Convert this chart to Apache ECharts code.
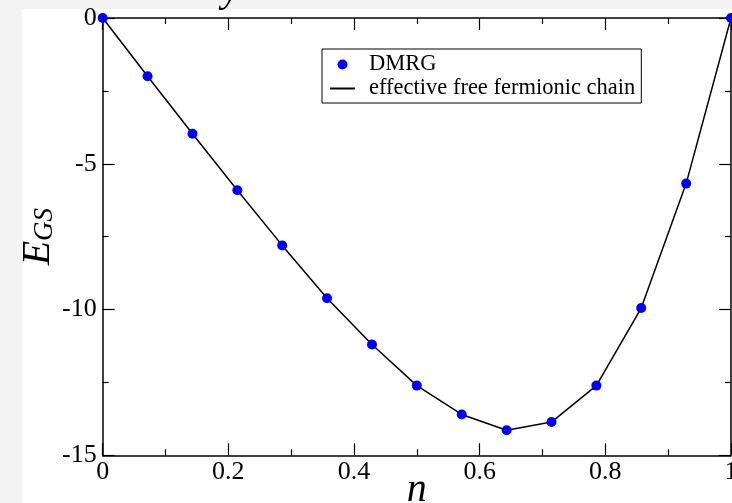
<!DOCTYPE html>
<html>
<head>
<meta charset="utf-8">
<script src="https://cdn.jsdelivr.net/npm/echarts@6/dist/echarts.min.js"></script>
<style>
  html, body { margin: 0; padding: 0; background: #f3f3f3; }
  #main { width: 732px; height: 503px; }
</style>
</head>
<body>
<div id="main"></div>
<script>
// filling n and ground state energy
var nValues = [0, 0.0714, 0.1429, 0.2143, 0.2857, 0.3571, 0.4286, 0.5, 0.5714, 0.6429, 0.7143, 0.7857, 0.8571, 0.9286, 1];
var dmrgEnergy = [0, -2.0, -3.97, -5.91, -7.8, -9.61, -11.2, -12.61, -13.6, -14.14, -13.86, -12.61, -9.95, -5.68, 0];
var freeChainEnergy = [0, -2.0, -3.97, -5.91, -7.8, -9.61, -11.2, -12.61, -13.6, -14.14, -13.86, -12.61, -9.95, -5.68, 0];
var xTicks = [0, 0.2, 0.4, 0.6, 0.8, 1];
var yTicks = [-15, -10, -5, 0];

var serif = "'Liberation Serif', 'DejaVu Serif', serif";

function pairs(xs, ys) {
  var out = [];
  for (var i = 0; i < xs.length; i++) out.push([xs[i], ys[i]]);
  return out;
}

var chart = echarts.init(document.getElementById('main'));

var axisCommon = {
  axisLine: { show: true, onZero: false, lineStyle: { color: '#000', width: 1.5 } },
  axisTick: { show: true, inside: true, length: 12, lineStyle: { color: '#000', width: 1.2 } },
  minorTick: { show: true, splitNumber: 2, length: 6, lineStyle: { color: '#000', width: 1.2 } },
  splitLine: { show: false }
};

chart.setOption({
  backgroundColor: '#f3f3f3',
  animation: false,
  graphic: [
    { type: 'rect', z: -100, shape: { x: 22, y: 9, width: 710, height: 494 }, style: { fill: '#ffffff' } },
    { type: 'text', z: -50, left: 222, top: -30,
      style: { text: 'y', font: 'italic 40px ' + serif, fill: '#000' } }
  ],
  grid: { left: 102.7, right: 1, top: 18, bottom: 47.7, containLabel: false, outerBoundsMode: 'none' },
  legend: {
    left: 322, top: 49,
    orient: 'vertical',
    backgroundColor: '#fff',
    borderColor: '#000',
    borderWidth: 1,
    borderRadius: 0,
    padding: [4, 6, 3, 7],
    itemGap: 1,
    itemWidth: 25,
    itemHeight: 10,
    textStyle: { fontFamily: serif, fontSize: 22.5, color: '#000', padding: [0, 0, 0, 9] },
    data: [
      { name: 'DMRG', icon: 'circle' },
      { name: 'effective free fermionic chain', itemStyle: { opacity: 0 } }
    ]
  },
  xAxis: [
    Object.assign({
      type: 'value', min: 0, max: 1, interval: 0.2, position: 'bottom',
      name: 'n', nameLocation: 'middle', nameGap: 15, nameMoveOverlap: false,
      nameTextStyle: { fontFamily: serif, fontStyle: 'italic', fontSize: 40, color: '#000' },
      axisLabel: { fontFamily: serif, fontSize: 26, color: '#000', margin: 4,
        formatter: function (v) { return xTicks.indexOf(+v.toFixed(1)) >= 0 ? String(+v.toFixed(1)) : ''; } }
    }, axisCommon),
    Object.assign({
      type: 'value', min: 0, max: 1, interval: 0.2, position: 'top',
      axisLabel: { show: false }
    }, axisCommon)
  ],
  yAxis: [
    Object.assign({
      type: 'value', min: -15, max: 0, interval: 5, position: 'left',
      name: '{e|E}{s|GS}', nameLocation: 'middle', nameGap: 44, nameMoveOverlap: false,
      nameTextStyle: {
        color: '#000',
        rich: {
          e: { fontFamily: serif, fontStyle: 'italic', fontSize: 40, color: '#000' },
          s: { fontFamily: serif, fontStyle: 'italic', fontSize: 27, color: '#000', padding: [14, 0, 0, 0] }
        }
      },
      axisLabel: { fontFamily: serif, fontSize: 26, color: '#000', margin: 6,
        formatter: function (v) { return yTicks.indexOf(v) >= 0 ? String(v) : ''; } }
    }, axisCommon),
    Object.assign({
      type: 'value', min: -15, max: 0, interval: 5, position: 'right',
      axisLabel: { show: false }
    }, axisCommon)
  ],
  series: [
    {
      name: 'effective free fermionic chain',
      type: 'line',
      data: pairs(nValues, freeChainEnergy),
      symbol: 'none',
      lineStyle: { color: '#000', width: 1.5 },
      itemStyle: { color: '#000' },
      z: 2
    },
    {
      name: 'DMRG',
      type: 'scatter',
      data: pairs(nValues, dmrgEnergy),
      symbol: 'circle',
      symbolSize: 10,
      itemStyle: { color: '#0000ff', opacity: 1 },
      z: 3
    }
  ]
});
</script>
</body>
</html>
